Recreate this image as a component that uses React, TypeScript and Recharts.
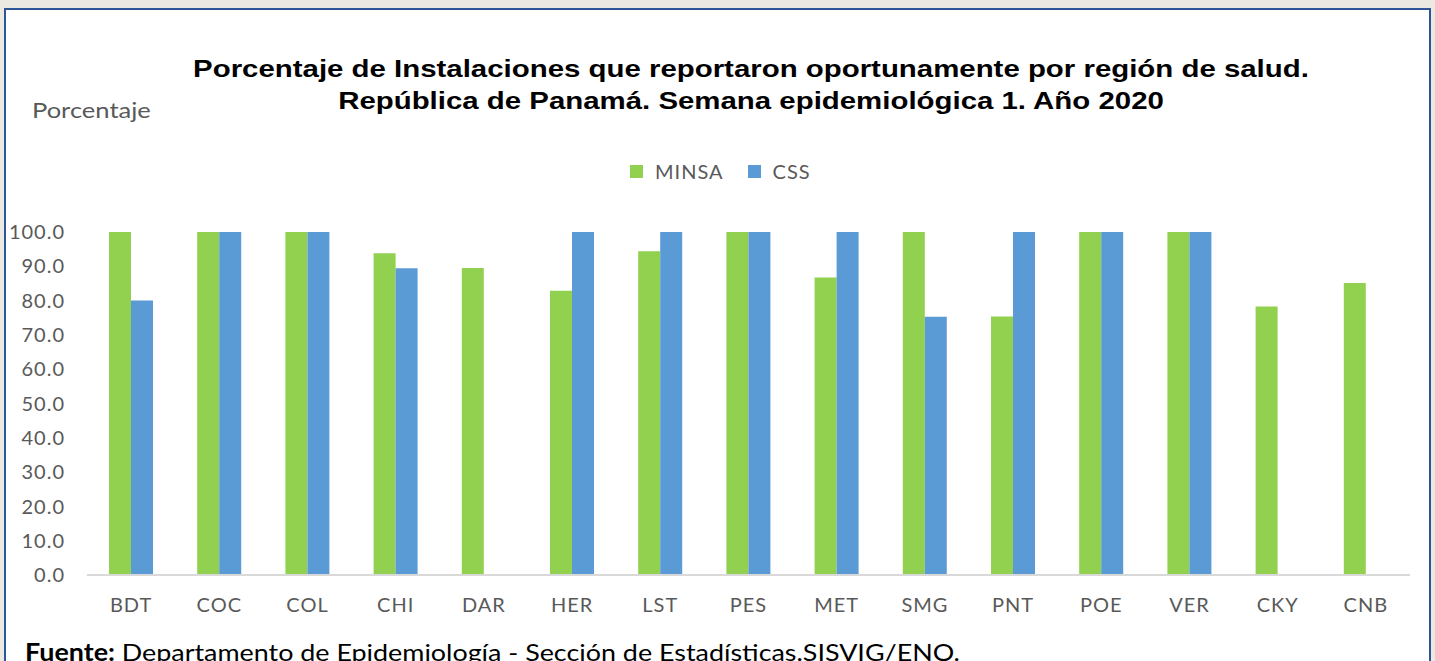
import React from "react";
import { BarChart, Bar, XAxis, YAxis } from "recharts";

const regions = ["BDT", "COC", "COL", "CHI", "DAR", "HER", "LST", "PES", "MET", "SMG", "PNT", "POE", "VER", "CKY", "CNB"];
const minsa = [100, 100, 100, 93.8, 89.5, 82.9, 94.4, 100, 86.7, 100, 75.4, 100, 100, 78.3, 85.1];
const css: (number | null)[] = [80.0, 100, 100, 89.4, null, 100, 100, 100, 100, 75.3, 100, 100, 100, null, null];
const yTicks = [0, 10, 20, 30, 40, 50, 60, 70, 80, 90, 100];
const seriesNames = ["MINSA", "CSS"];
const seriesColors = ["#92d050", "#5b9bd5"];

const data = regions.map((r, i) => ({ region: r, MINSA: minsa[i], CSS: css[i] }));

const FONT = "Lato, 'Open Sans', sans-serif";
const GRAY = "#595959";
const tickStyle = { fill: GRAY, fontSize: 20, fontFamily: FONT, letterSpacing: 1 };

export default function App() {
  return (
    <div style={{ position: "fixed", left: 0, top: 0, width: 1435, height: 661, background: "#ece9e2", overflow: "hidden" }}>
      <div style={{ position: "absolute", left: 4, top: 8, width: 1423, height: 700, background: "#fff", border: "2px solid #2f5597" }} />
      <div style={{ position: "absolute", left: 151, top: 53, width: 1200, textAlign: "center", fontFamily: "'Liberation Sans', Arial, sans-serif", fontWeight: "bold", fontSize: 24.5, lineHeight: "32px", color: "#000", transform: "scaleX(1.2)", transformOrigin: "600px 0" }}>
        Porcentaje de Instalaciones que reportaron oportunamente por región de salud.
        <br />
        República de Panamá. Semana epidemiológica 1. Año 2020
      </div>
      <div style={{ position: "absolute", left: 32, top: 96, fontFamily: FONT, fontSize: 22, color: GRAY, transform: "scaleX(1.16)", transformOrigin: "0 0" }}>Porcentaje</div>
      <div style={{ position: "absolute", left: 630, top: 158, display: "flex", alignItems: "center", fontFamily: FONT, fontSize: 20, letterSpacing: 1, color: GRAY, lineHeight: "26px" }}>
        {seriesNames.map((n, i) => (
          <span key={n} style={{ display: "flex", alignItems: "center", marginRight: 24 }}>
            <span style={{ display: "inline-block", width: 13, height: 13, background: seriesColors[i], marginRight: 12 }} />
            {n}
          </span>
        ))}
      </div>
      <div style={{ position: "absolute", left: 0, top: 0 }}>
        <BarChart width={1435} height={661} data={data} margin={{ top: 232, right: 25, bottom: 56, left: 0 }} barGap={0} barSize={22}>
          <XAxis dataKey="region" height={30} axisLine={{ stroke: "#d9d9d9", strokeWidth: 2 }} tickLine={false} tickSize={0} tickMargin={23} tick={tickStyle} interval={0} />
          <YAxis domain={[0, 100]} ticks={yTicks} width={87} axisLine={false} tickLine={false} tickSize={0} tickMargin={22} tick={tickStyle} tickFormatter={(v: number) => v.toFixed(1)} />
          <Bar dataKey="MINSA" fill={seriesColors[0]} isAnimationActive={false} />
          <Bar dataKey="CSS" fill={seriesColors[1]} isAnimationActive={false} />
        </BarChart>
      </div>
      <div style={{ position: "absolute", left: 25, top: 639, fontFamily: FONT, fontSize: 24, lineHeight: "25px", color: "#000", whiteSpace: "nowrap", transform: "scaleX(1.12)", transformOrigin: "0 0" }}>
        <b>Fuente:</b> Departamento de Epidemiología - Sección de Estadísticas.SISVIG/ENO.
      </div>
    </div>
  );
}
